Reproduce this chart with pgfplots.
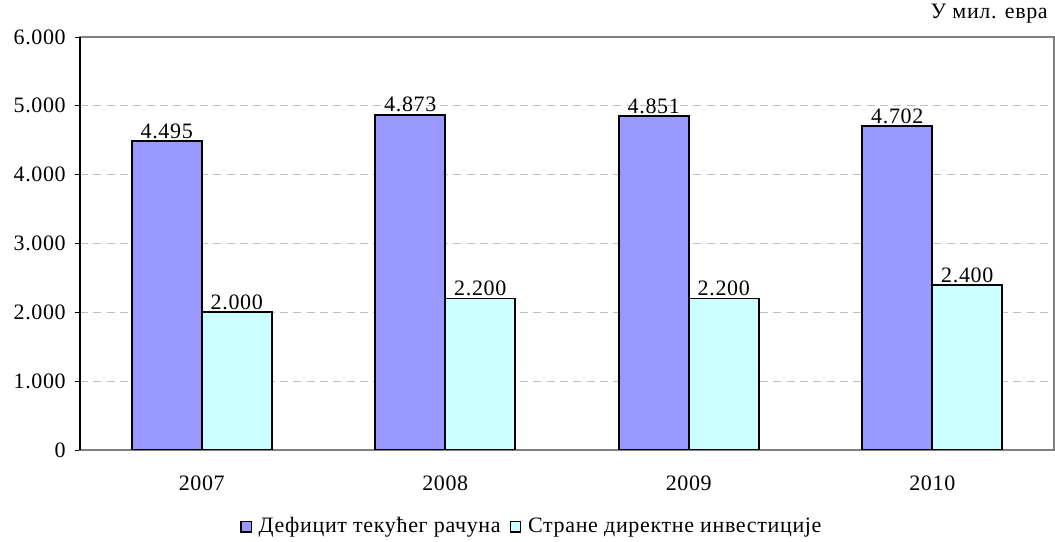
\documentclass[border=0pt]{standalone}
\usepackage{fontspec}
\setmainfont[LetterSpace=3]{Liberation Serif}
\usepackage{pgfplots}
\pgfplotsset{compat=1.18}
\definecolor{defcol}{HTML}{9999FF}
\definecolor{fdicol}{HTML}{CCFFFF}
\definecolor{gridcol}{HTML}{C0C0C0}
\definecolor{framecol}{HTML}{808080}
\newcommand{\chartfont}{\fontsize{16.5}{19}\selectfont}

\begin{document}
\begin{tikzpicture}
\chartfont
\begin{axis}[
    name=ax,
    ybar=0pt,
    bar width=52.5pt,
    width=730.5pt, height=309.75pt,
    scale only axis,
    xmin=-0.5, xmax=3.5,
    ymin=0, ymax=6000,
    ytick={0,1000,...,6000},
    xtick={0,1,2,3},
    xticklabels={2007,2008,2009,2010},
    xtick pos=bottom, ytick pos=left,
    major x tick style={draw=none},
    extra x ticks={0.5,1.5,2.5},
    extra x tick labels={},
    extra x tick style={grid=none, tick style={draw=framecol, line width=0.8pt}},
    tick align=outside,
    major tick length=4pt,
    ytick style={draw=black, line width=0.6pt},
    axis line style={draw=framecol, line width=0.8pt},
    ymajorgrids,
    major grid style={draw=gridcol, dash pattern=on 6pt off 4pt, line width=0.6pt},
    /pgf/number format/.cd, 1000 sep={.}, assume math mode=true,
    /pgfplots/.cd,
    ticklabel style={font=\chartfont},
    yticklabel style={xshift=-1pt},
    xticklabel style={yshift=-10pt},
    nodes near coords,
    nodes near coords style={font=\chartfont, inner sep=1pt},
    every axis plot/.append style={draw=black, line width=1.4pt},
    legend style={at={(0.5,-0.15)}, xshift=-26pt, anchor=north, draw=none, legend columns=-1,
        font=\chartfont,
        /tikz/every odd column/.append style={column sep=3pt},
        /tikz/every even column/.append style={column sep=5pt}},
    legend image code/.code={\draw[#1, line width=1pt] (0pt,-3.8pt) rectangle (7.6pt,3.8pt);},
]
\addplot[fill=defcol] coordinates {(0,4495) (1,4873) (2,4851) (3,4702)};
\addplot[fill=fdicol] coordinates {(0,2000) (1,2200) (2,2200) (3,2400)};
\legend{Дефицит текућег рачуна, Стране директне инвестиције}
\end{axis}
\draw[black, line width=0.8pt] (ax.south west) -- (ax.north west);
\node[anchor=base east, inner sep=0pt] at ([xshift=-4.5pt, yshift=14pt]ax.north east) {У мил. евра};
\path (ax.south west) ++(-60pt,-64.5pt) rectangle ([xshift=0.75pt, yshift=27.75pt]ax.north east);
\end{tikzpicture}
\end{document}
